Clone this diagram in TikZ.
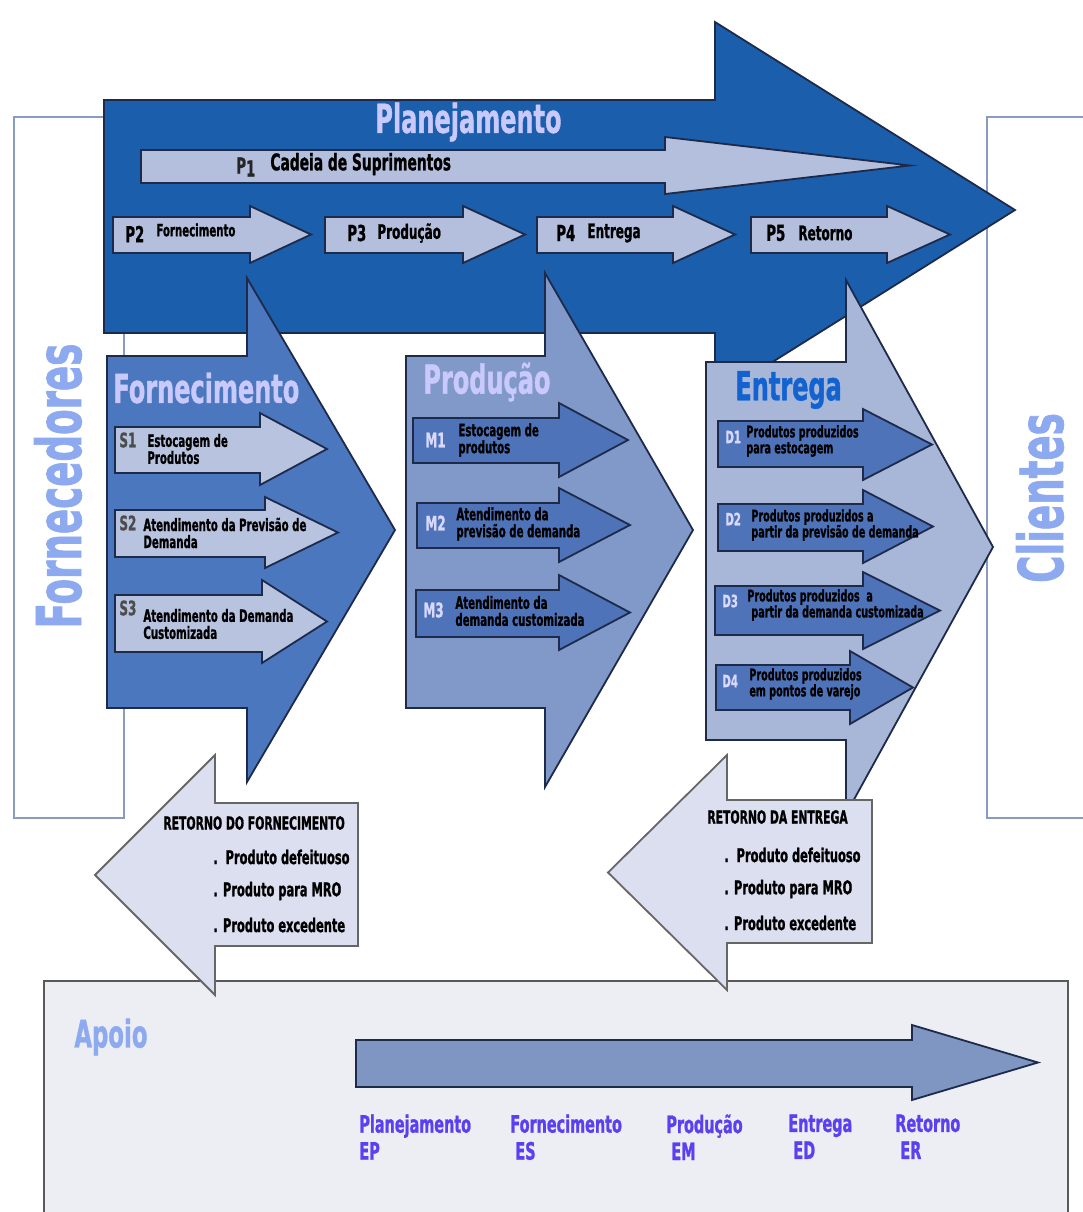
\documentclass[tikz,border=0pt]{standalone}
\usepackage{fontspec}
\newfontfamily\impact[FakeStretch=0.6,FakeBold=1]{DejaVu Sans}
\usetikzlibrary{positioning}

\definecolor{planblue}{HTML}{1B5EAB}
\definecolor{pbox}{HTML}{B3BFDD}
\definecolor{fornblue}{HTML}{4B77BF}
\definecolor{sbox}{HTML}{B8C3E0}
\definecolor{prodblue}{HTML}{8199C9}
\definecolor{mbox}{HTML}{4E73B9}
\definecolor{entblue}{HTML}{A8B7D8}
\definecolor{retbox}{HTML}{DCDFF0}
\definecolor{apoiobg}{HTML}{ECEEF4}
\definecolor{apoioarr}{HTML}{7F96C2}
\definecolor{lavender}{HTML}{C9C9FB}
\definecolor{skyblue}{HTML}{8DA9EF}
\definecolor{deepblue}{HTML}{1262CF}
\definecolor{labviolet}{HTML}{5B3FF0}
\definecolor{navy}{HTML}{1D2A4A}
\definecolor{framegray}{HTML}{8A9BC0}

\newcommand{\fsz}[1]{\fontsize{#1}{#1}\selectfont}

% block arrow: style, tail x, body top, body bottom, neck x, head top, head bottom, tip x
\newcommand{\blockarrow}[8]{%
  \draw[#1] (#2,#3) -- (#5,#3) -- (#5,#6) -- (#8,{(#6+#7)/2}) -- (#5,#7) -- (#5,#4) -- (#2,#4) -- cycle;}

\begin{document}
\begin{tikzpicture}[x=0.5pt, y=-0.5pt,
    outline/.style={draw=navy, line width=0.9pt, line join=miter},
    plan/.style={outline, fill=planblue},
    pstep/.style={outline, fill=pbox},
    forn/.style={outline, fill=fornblue},
    sstep/.style={outline, fill=sbox},
    prod/.style={outline, fill=prodblue},
    mstep/.style={outline, fill=mbox},
    entr/.style={outline, fill=entblue},
    ret/.style={draw=gray!80!black, line width=0.9pt, fill=retbox},
    side/.style={draw=framegray, line width=1pt, fill=white},
    lbl/.style={inner sep=0pt, anchor=west, align=left, font=\impact\bfseries\fsz{8.5}},
    tag/.style={inner sep=0pt, anchor=west, font=\impact\bfseries\fsz{10}},
    dtag/.style={tag, text=white!85!blue, font=\impact\bfseries\fsz{8.5}},
    title/.style={inner sep=0pt, anchor=west, font=\impact\bfseries\fsz{20}},
    rettxt/.style={inner sep=0pt, anchor=west, font=\impact\bfseries\fsz{9.5}},
    sup/.style={inner sep=0pt, anchor=north west, align=left, text=labviolet,
      font=\impact\bfseries\fontsize{12}{13.5}\selectfont}
  ]
    \useasboundingbox (0,0) rectangle (1083,1212);
    \fill[white] (0,0) rectangle (1083,1212);

    % side frames
    \draw[side] (14,117) rectangle (124,818);
    \draw[side] (987,117) rectangle (1095,818);
    \node[rotate=90, text=skyblue, inner sep=0pt, font=\impact\bfseries\fsz{31}]
      (forncd) at (58,486) {Fornecedores};
    \node[rotate=90, text=skyblue, inner sep=0pt, font=\impact\bfseries\fsz{31}]
      (clientes) at (1040,498) {Clientes};

    % support box
    \draw[draw=gray!70!black, line width=1pt, fill=apoiobg] (44,981) rectangle (1068,1225);
    \node[title, text=skyblue, font=\impact\bfseries\fsz{19}] (apoio) at (74,1037) {Apoio};
    \blockarrow{outline, fill=apoioarr}{356}{1040}{1087}{912}{1025}{1100}{1038}
    \node[sup] (ep) at (359,1114) {Planejamento\\EP};
    \node[sup] (es) at (510,1114) {Fornecimento\\\hspace{2.5pt}ES};
    \node[sup] (em) at (666,1114) {Produção\\\hspace{2.5pt}EM};
    \node[sup] (ed) at (788,1114) {Entrega\\\hspace{2.5pt}ED};
    \node[sup] (er) at (895,1114) {Retorno\\\hspace{2.5pt}ER};

    % planning
    \blockarrow{plan}{104}{100}{333}{715}{22}{398}{1015}
    \node[title, text=lavender] (ttlplan) at (375,122) {Planejamento};
    \blockarrow{pstep}{141}{150}{183}{665}{137}{194}{910}
    \node[tag, text=black!85, font=\impact\bfseries\fsz{11}] (p1id) at (236,167) {P\raisebox{-1.5pt}{1}};
    \node[tag, font=\impact\bfseries\fsz{11.5}] (p1txt) at (270,164) {Cadeia de Suprimentos};

    \blockarrow{pstep}{113}{217}{253}{250}{206}{263}{311}
    \blockarrow{pstep}{325}{217}{253}{463}{206}{263}{525}
    \blockarrow{pstep}{537}{217}{253}{673}{206}{263}{735}
    \blockarrow{pstep}{751}{217}{253}{887}{206}{263}{950}
    \node[tag, font=\impact\bfseries\fsz{11}] (p2id) at (125,234) {P2};
    \node[tag, font=\impact\bfseries\fsz{8.5}] (p2txt) at (156,230) {Fornecimento};
    \node[tag, font=\impact\bfseries\fsz{11}] (p3id) at (347,233) {P3};
    \node[tag] (p3txt) at (377,233) {Produção};
    \node[tag, font=\impact\bfseries\fsz{11}] (p4id) at (556,233) {P4};
    \node[tag] (p4txt) at (587,233) {Entrega};
    \node[tag, font=\impact\bfseries\fsz{11}] (p5id) at (766,233) {P5};
    \node[tag] (p5txt) at (798,233) {Retorno};

    % source
    \blockarrow{forn}{107}{356}{708}{247}{278}{782}{395}
    \node[title, text=lavender] (ttlforn) at (113,388) {Fornecimento};
    \blockarrow{sstep}{115}{427}{473}{260}{413}{485}{327}
    \blockarrow{sstep}{115}{510}{557}{265}{497}{568}{338}
    \blockarrow{sstep}{115}{595}{652}{262}{580}{663}{327}
    \node[tag, text=black!70] (s1id) at (119,440) {S1};
    \node[lbl] (s1txt) at (147,449) {Estocagem de\\Produtos};
    \node[tag, text=black!70] (s2id) at (119,523) {S2};
    \node[lbl] (s2txt) at (143,533) {Atendimento da Previsão de\\Demanda};
    \node[tag, text=black!70] (s3id) at (119,608) {S3};
    \node[lbl] (s3txt) at (143,624) {Atendimento da Demanda\\Customizada};

    % make
    \blockarrow{prod}{406}{356}{708}{545}{273}{787}{693}
    \node[title, text=lavender] (ttlprod) at (423,382) {Produção};
    \blockarrow{mstep}{413}{418}{463}{559}{403}{477}{628}
    \blockarrow{mstep}{417}{503}{548}{559}{488}{562}{630}
    \blockarrow{mstep}{416}{590}{637}{559}{575}{650}{630}
    \node[tag, text=white!85!blue] (m1id) at (425,440) {M1};
    \node[lbl] (m1txt) at (458,440) {Estocagem de\\produtos};
    \node[tag, text=white!85!blue] (m2id) at (425,523) {M2};
    \node[lbl] (m2txt) at (456,524) {Atendimento da\\previsão de demanda};
    \node[tag, text=white!85!blue] (m3id) at (423,610) {M3};
    \node[lbl] (m3txt) at (455,611) {Atendimento da\\demanda customizada};

    % deliver
    \blockarrow{entr}{706}{362}{740}{846}{280}{814}{993}
    \node[title, text=deepblue] (ttlentr) at (735,390) {Entrega};
    \blockarrow{mstep}{718}{421}{467}{863}{409}{480}{932}
    \blockarrow{mstep}{718}{504}{551}{863}{490}{563}{933}
    \blockarrow{mstep}{715}{586}{635}{863}{572}{649}{940}
    \blockarrow{mstep}{716}{665}{710}{850}{651}{724}{913}
    \node[dtag] (d1id) at (725,437) {D1};
    \node[lbl, font=\impact\bfseries\fsz{8}] (d1txt) at (746,441) {Produtos produzidos\\para estocagem};
    \node[dtag] (d2id) at (725,519) {D2};
    \node[lbl, font=\impact\bfseries\fsz{8}] (d2txt) at (751,525) {Produtos produzidos a\\partir da previsão de demanda};
    \node[dtag] (d3id) at (722,601) {D3};
    \node[lbl, font=\impact\bfseries\fsz{8}] (d3txt) at (747,605) {Produtos produzidos\ \ a\\\hspace{2pt}partir da demanda customizada};
    \node[dtag] (d4id) at (722,681) {D4};
    \node[lbl, font=\impact\bfseries\fsz{8}] (d4txt) at (749,684) {Produtos produzidos\\em pontos de varejo};

    % returns
    \blockarrow{ret}{358}{803}{946}{215}{755}{995}{95}
    \node[rettxt, font=\impact\bfseries\fsz{9}] (rfttl) at (163,823) {RETORNO DO FORNECIMENTO};
    \node[rettxt] (rf1) at (213,857) {.\ \ Produto defeituoso};
    \node[rettxt] (rf2) at (213,891) {. Produto para MRO};
    \node[rettxt] (rf3) at (213,925) {. Produto excedente};

    \blockarrow{ret}{872}{800}{943}{727}{755}{990}{608}
    \node[rettxt, font=\impact\bfseries\fsz{9}] (rettl) at (707,817) {RETORNO DA ENTREGA};
    \node[rettxt] (re1) at (724,855) {.\ \ Produto defeituoso};
    \node[rettxt] (re2) at (724,889) {. Produto para MRO};
    \node[rettxt] (re3) at (724,923) {. Produto excedente};
\end{tikzpicture}
\end{document}
